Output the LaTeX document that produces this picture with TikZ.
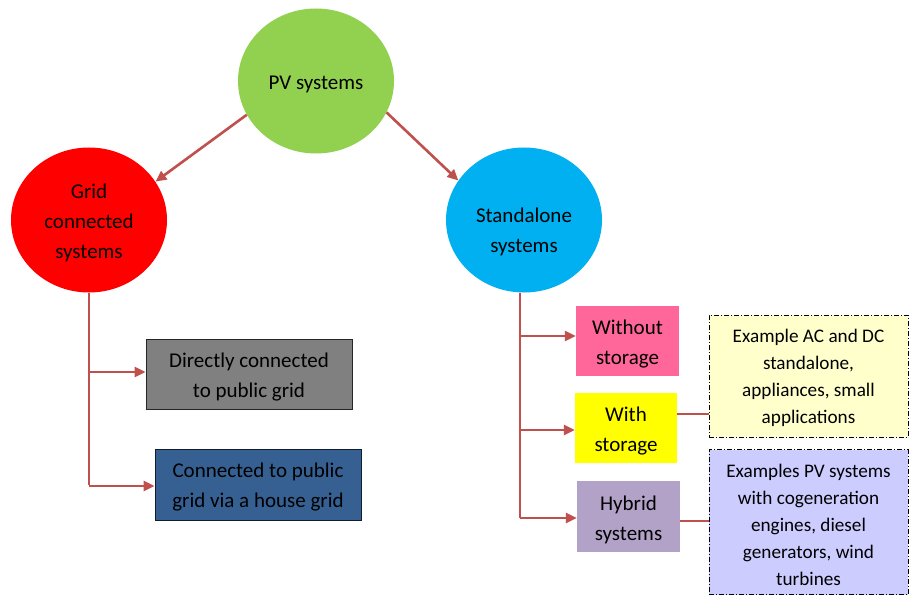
\documentclass[tikz,border=0pt]{standalone}
\usepackage{fontspec}
\setmainfont{Carlito}
\usetikzlibrary{shapes.geometric,arrows.meta,calc}
\definecolor{pvgreen}{HTML}{92D050}
\definecolor{gridred}{HTML}{FF0000}
\definecolor{skyblue}{HTML}{00B0F0}
\definecolor{boxgray}{HTML}{808080}
\definecolor{boxblue}{HTML}{366092}
\definecolor{boxpink}{HTML}{FF6699}
\definecolor{boxyellow}{HTML}{FFFF00}
\definecolor{boxpurple}{HTML}{B3A2C7}
\definecolor{noteyellow}{HTML}{FFFFCC}
\definecolor{notelav}{HTML}{CCCCFF}
\definecolor{linkred}{HTML}{C0504D}
\begin{document}
\begin{tikzpicture}[x=1pt,y=-1pt,
  bigfont/.style={font=\fontsize{21pt}{30pt}\selectfont},
  smallfont/.style={font=\fontsize{19.2pt}{27pt}\selectfont},
  txt/.style 2 args={label={[bigfont,align=center,inner sep=0pt,yshift=#1]center:#2}},
  stxt/.style 2 args={label={[smallfont,align=center,inner sep=0pt,yshift=#1]center:#2}},
  circ/.style={ellipse,minimum width=156pt,minimum height=145pt,inner sep=0pt},
  rbox/.style={rectangle,inner sep=0pt},
  note/.style={rectangle,inner sep=0pt,draw=black,line width=0.8pt,
    dash pattern=on 5pt off 2pt on 1pt off 2pt},
  link/.style={draw=linkred,line width=2.6pt},
  arr/.style={link,-{Triangle[length=11pt,width=10pt]}}
]
\useasboundingbox (0,0) rectangle (909,596);
\fill[white] (0,0) rectangle (909,596);

\node[circ,fill=pvgreen,txt={-3pt}{PV systems}] (pv) at (316,81) {};
\node[circ,fill=gridred,txt={-3pt}{Grid\\connected\\systems}] (grid) at (89,220) {};
\node[circ,fill=skyblue,txt={-11.5pt}{Standalone\\systems}] (sa) at (524,220) {};

\node[rbox,fill=boxgray,draw=black!85,line width=1pt,minimum width=206pt,minimum height=70pt,
  txt={-3pt}{Directly connected\\to public grid}] (direct) at (249,374) {};
\node[rbox,fill=boxblue,draw=black!70!boxblue,line width=1pt,minimum width=206pt,minimum height=71pt,
  txt={-3pt}{Connected to public\\grid via a house grid}] (house) at (258,484.5) {};

\node[rbox,fill=boxpink,minimum width=103pt,minimum height=70pt,txt={-3pt}{Without\\storage}] (without) at (627.5,341) {};
\node[rbox,fill=boxyellow,minimum width=102pt,minimum height=70pt,txt={-3pt}{With\\storage}] (with) at (626,428) {};
\node[rbox,fill=boxpurple,minimum width=103pt,minimum height=71pt,txt={-3pt}{Hybrid\\systems}] (hybrid) at (628.5,516.5) {};

\node[note,fill=noteyellow,minimum width=199pt,minimum height=122pt,
  stxt={-1.5pt}{Example AC and DC\\standalone,\\appliances, small\\applications}] (ex1) at (808.5,376) {};
\node[note,fill=notelav,minimum width=199pt,minimum height=145pt,
  stxt={-2.5pt}{Examples PV systems\\with cogeneration\\engines, diesel\\generators, wind\\turbines}] (ex2) at (808.5,522) {};

\draw[arr] (pv.-154) -- (grid.30);
\draw[arr] (pv.-24) -- (sa.149);

\draw[link] (grid.south) -- (grid.south |- house.west);
\draw[arr] ($(grid.south |- direct.west)+(0,-2)$) -- ($(direct.west)+(0,-2)$);
\draw[arr] ($(grid.south |- house.west)+(0,1.5)$) -- ($(house.west)+(0,1.5)$);

\coordinate (trunk) at ($(sa.south)+(-4,0)$);
\draw[link] (trunk) -- ($(trunk |- hybrid.west)+(0,1.5)$);
\draw[arr] ($(trunk |- without.west)+(0,-5)$) -- ($(without.west)+(0,-5)$);
\draw[arr] ($(trunk |- with.west)+(0,2)$) -- ($(with.west)+(0,2)$);
\draw[arr] ($(trunk |- hybrid.west)+(0,1.5)$) -- ($(hybrid.west)+(0,1.5)$);

\coordinate (wlink) at ($(with.north east)!0.3!(with.south east)$);
\draw[link,line width=2pt] (wlink) -- (wlink -| ex1.west);
\draw[link,line width=2pt] ($(hybrid.east)+(0,4)$) -- ($(hybrid.east -| ex2.west)+(0,4)$);
\end{tikzpicture}
\end{document}
